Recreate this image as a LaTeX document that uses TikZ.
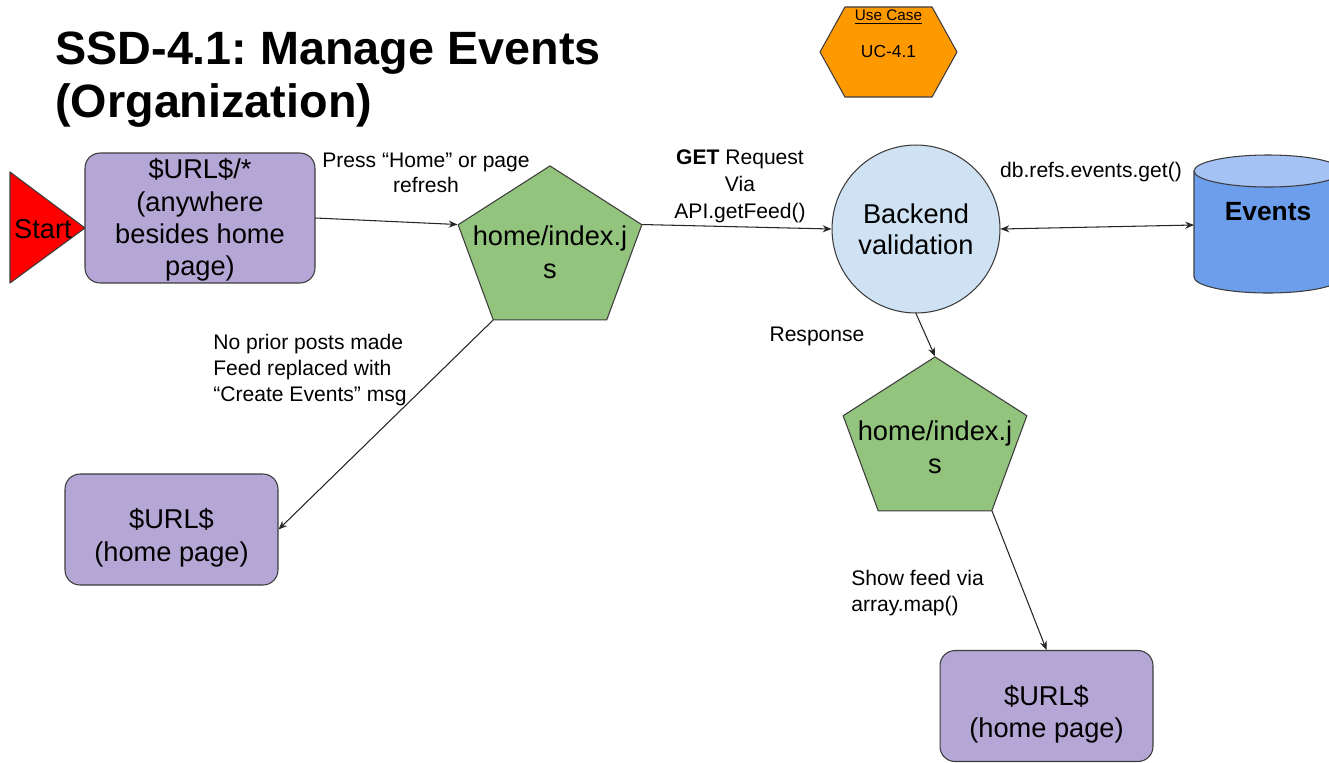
\documentclass[tikz,border=0pt]{standalone}
\usepackage{fontspec}
\setmainfont{Liberation Sans}
\usepackage{xcolor}
\usetikzlibrary{arrows.meta,shapes.geometric,shapes.symbols}
\frenchspacing

\definecolor{boxpurple}{HTML}{B4A7D6}
\definecolor{pentgreen}{HTML}{93C47D}
\definecolor{circblue}{HTML}{CFE2F3}
\definecolor{dbblue}{HTML}{6D9EEB}
\definecolor{dbtop}{HTML}{A4C2F4}
\definecolor{ucorange}{HTML}{FF9900}
\definecolor{edgegray}{HTML}{3C3C3C}

\begin{document}
\begin{tikzpicture}[line cap=round,line join=round,>={Stealth[length=5pt,width=4pt]},x=0.02cm,y=-0.02cm,
  pagebox/.style={draw=edgegray,fill=boxpurple,line width=0.6pt,rounded corners=0.3cm,inner sep=0pt,align=center,font=\fontsize{15.5}{18.4}\selectfont},
  jsfile/.style={draw=edgegray,fill=pentgreen,line width=0.6pt,regular polygon,regular polygon sides=5,minimum size=3.68cm,inner sep=0pt,xscale=1.05,yscale=0.925,transform shape},
  jstext/.style={inner sep=0pt,align=center,font=\fontsize{15.5}{18.8}\selectfont},
  lbl/.style={inner sep=0pt,align=center,font=\fontsize{12}{14.6}\selectfont},
  flow/.style={->,draw=black!85,line width=0.6pt}]
\useasboundingbox[fill=white] (0,0) rectangle (1329,762);

% title and use case tag
\node[anchor=north west,inner sep=0pt,align=left,font=\bfseries\fontsize{26.6}{30}\selectfont] (title) at (55,32) {SSD-4.1: Manage Events\\(Organization)};
\node[signal,signal to=west and east,signal pointer angle=122,draw=edgegray,fill=ucorange,line width=0.6pt,minimum width=2.74cm,minimum height=1.8cm,inner sep=0pt,font=\fontsize{9.9}{12}\selectfont] (uc) at (888.5,52) {UC-4.1};
\node[inner sep=0pt,font=\fontsize{8.7}{10}\selectfont] (uclbl) at (888.5,17) {\underline{Use Case}};

% start
\filldraw[fill=red,draw=edgegray,line width=0.6pt] (10,172) -- (85,228) -- (10,283) -- cycle;
\node[inner sep=0pt,font=\fontsize{15.5}{17.6}\selectfont] (start) at (43,229) {Start};

% pages
\node[pagebox,minimum width=4.6cm,minimum height=2.6cm] (anypage) at (200,218) {\rule{0pt}{14pt}\$URL\$/*\\(anywhere\\besides home\\page)};
\node[pagebox,minimum width=4.26cm,minimum height=2.22cm] (homeleft) at (171.5,529.5) {\rule{0pt}{21pt}\$URL\$\\(home page)};
\node[pagebox,minimum width=4.26cm,minimum height=2.22cm] (homeright) at (1046.5,706) {\rule{0pt}{21pt}\$URL\$\\(home page)};

% scripts
\node[jsfile] (js1) at (550,251) {};
\node[jstext] (js1txt) at (550,252) {home/index.j\\s};
\node[jsfile] (js2) at (935,442) {};
\node[jstext] (js2txt) at (935,447) {home/index.j\\s};

% backend and db
\node[circle,draw=edgegray,fill=circblue,line width=0.6pt,minimum size=3.36cm,inner sep=0pt,align=center,font=\fontsize{15.5}{17.6}\selectfont] (backend) at (916,229) {Backend\\validation};
\filldraw[fill=dbblue,draw=edgegray,line width=0.6pt] (1194,171) -- (1194,277) arc[start angle=180,end angle=0,x radius=74,y radius=16] -- (1342,171) -- cycle;
\filldraw[fill=dbtop,draw=edgegray,line width=0.6pt] (1268,171) ellipse[x radius=74,y radius=16];
\coordinate (eventsside) at (1194,225);
\node[inner sep=0pt,font=\bfseries\fontsize{15}{18}\selectfont] (events) at (1268,212) {Events};

% connectors
\draw[flow] (anypage.east) -- (js1.corner 2);
\draw[flow] (js1.corner 5) -- (backend.west);
\draw[flow,<->] (backend.east) -- (eventsside);
\draw[flow] (backend.south) -- (js2.corner 1);
\draw[flow] (js2.corner 4) -- (homeright.north);
\draw[flow] (js1.corner 3) -- (homeleft.east);

% connector labels
\node[lbl] (presslbl) at (426,173) {Press “Home” or page\\refresh};
\node[lbl,font=\fontsize{12}{15.4}\selectfont] (getlbl) at (740,186) {\textbf{GET} Request\\Via\\API.getFeed()};
\node[lbl] (dblbl) at (1091,172) {db.refs.events.get()};
\node[lbl] (resplbl) at (817,336) {Response};
\node[lbl,align=left,anchor=west] (showlbl) at (851,593) {Show feed via\\array.map()};
\node[lbl,align=left,anchor=west] (priorlbl) at (213,370) {No prior posts made\\Feed replaced with\\“Create Events” msg};
\end{tikzpicture}
\end{document}
